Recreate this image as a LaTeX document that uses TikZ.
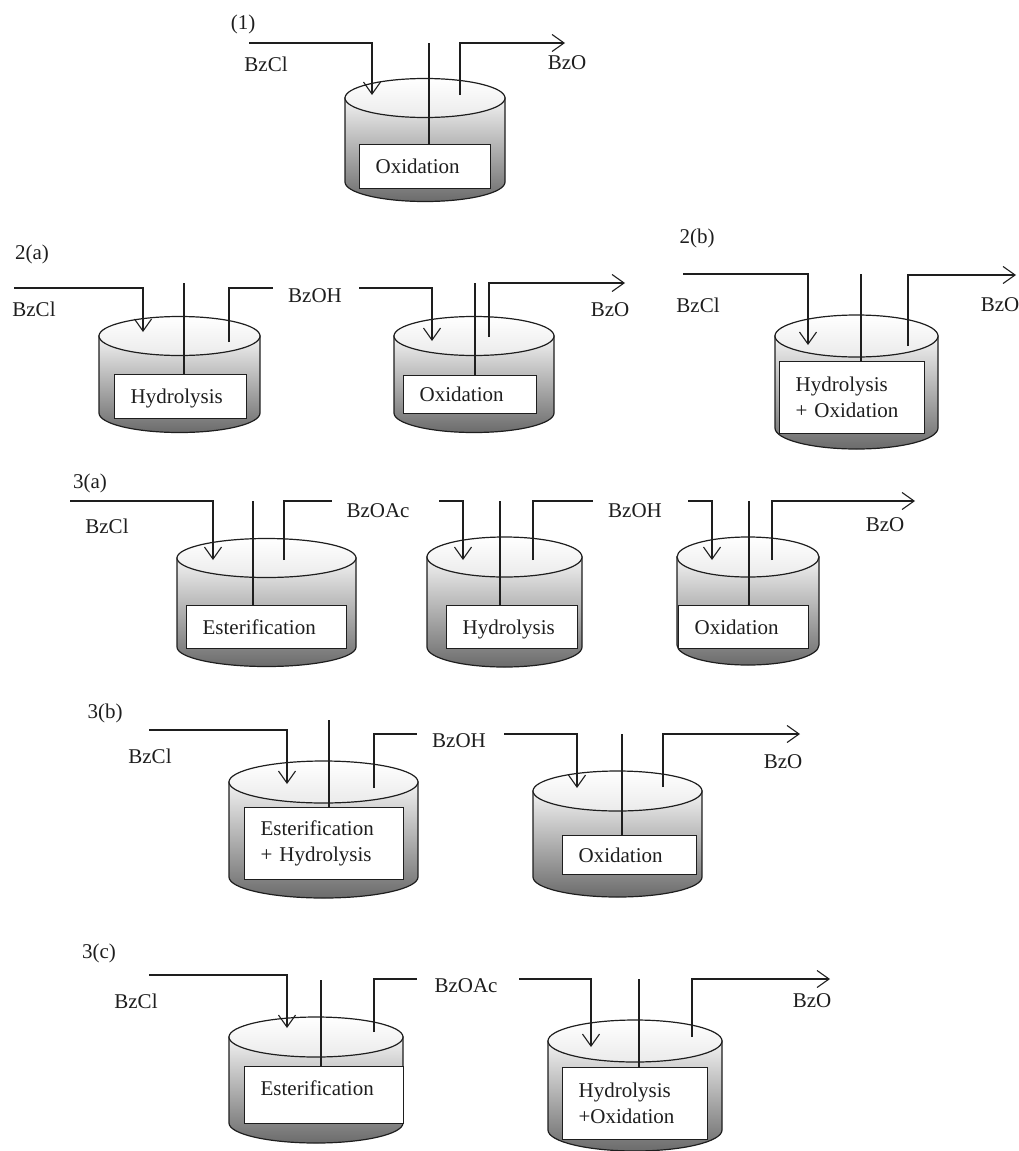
\documentclass[tikz,border=0pt]{standalone}
\usepackage{fontspec}
\setmainfont{Liberation Serif}
\usetikzlibrary{arrows.meta}
\definecolor{ink}{HTML}{1E1E1E}
\newcommand{\tank}[5]{%
  \pgfmathsetmacro{\tankrx}{(#2-#1)/2}
  \draw[vessel,top color=black!5,middle color=black!17,bottom color=black!58]
    (#1,#3) -- (#1,#4) arc[start angle=180,end angle=360,x radius=\tankrx,y radius=-#5] -- (#2,#3) -- cycle;
  \draw[vessel,top color=white,bottom color=black!8]
    (#1,#3) arc[start angle=180,end angle=540,x radius=\tankrx,y radius=-#5] -- cycle;}

\begin{document}
\begin{tikzpicture}[x=1pt,y=-1pt,font=\fontsize{21}{26}\selectfont,color=ink,
  vessel/.style={draw=ink,line width=1.2pt},
  rxn/.style={draw=ink,fill=white,line width=1.2pt,anchor=north west,align=left,
              inner xsep=16pt,inner ysep=0pt},
  lbl/.style={inner sep=0pt},
  flow/.style={draw=ink,line width=1.1pt},
  feed/.style={flow,-{Straight Barb[length=12pt,width=17pt]}}]
  \useasboundingbox (0,0) rectangle (1019,1151);

  \tank{345}{505}{98}{182}{19.5}
  \tank{99}{260}{336}{413}{19.5}
  \tank{394}{554}{336}{413}{19.5}
  \tank{775}{938}{336}{428}{21}
  \tank{177}{356}{558}{647}{19.5}
  \tank{427}{582}{557}{647}{20}
  \tank{677}{819}{557}{645}{20}
  \tank{229}{418}{782}{877}{21}
  \tank{533}{702}{791}{877}{20}
  \tank{229}{403}{1037}{1123}{20}
  \tank{548}{722}{1041}{1130}{21}

  \node[rxn,text width=99pt,minimum height=44pt] (oxA) at (359,144) {Oxidation};
  \node[rxn,text width=100pt,minimum height=44pt] (hyB) at (114,374) {\rule{0pt}{18.5pt}Hydrolysis};
  \node[rxn,text width=101pt,minimum height=38pt] (oxB) at (403,375) {Oxidation};
  \node[rxn,text width=113pt,minimum height=72pt] (hoB) at (779,361) {Hydrolysis\\+ Oxidation};
  \node[rxn,text width=128pt,minimum height=43pt] (esC) at (186,605) {Esterification};
  \node[rxn,text width=99pt,minimum height=43pt] (hyC) at (446,605) {\rule{0pt}{18.5pt}Hydrolysis};
  \node[rxn,text width=98pt,minimum height=43pt] (oxC) at (678,605) {Oxidation};
  \node[rxn,text width=127pt,minimum height=72pt] (ehD) at (244,807) {Esterification\\+ Hydrolysis};
  \node[rxn,text width=102pt,minimum height=39pt] (oxD) at (562,835) {Oxidation};
  \node[rxn,text width=127pt,minimum height=57pt] (esE) at (244,1066) {Esterification\\[-12pt]~};
  \node[rxn,text width=113pt,minimum height=72pt] (hoE) at (562,1067) {Hydrolysis\\+Oxidation};

  \node[lbl] (capA) at (243,24) {(1)};
  \node[lbl] (capB) at (32,254) {2(a)};
  \node[lbl] (capC) at (697,238) {2(b)};
  \node[lbl] (capD) at (90,483) {3(a)};
  \node[lbl] (capE) at (105,713) {3(b)};
  \node[lbl] (capF) at (99,953) {3(c)};

  \node[lbl] (clA) at (266,64) {BzCl};
  \node[lbl] (boA) at (567,63) {BzO};
  \node[lbl] (clB) at (34,309) {BzCl};
  \node[lbl] (ohB) at (315,296) {BzOH};
  \node[lbl] (boB) at (610,310) {BzO};
  \node[lbl] (clC) at (698,305) {BzCl};
  \node[lbl] (boC) at (1000,305) {BzO};
  \node[lbl] (clD) at (107,526) {BzCl};
  \node[lbl] (acD) at (378,511) {BzOAc};
  \node[lbl] (ohD) at (635,511) {BzOH};
  \node[lbl] (boD) at (885,525) {BzO};
  \node[lbl] (clE) at (150,756) {BzCl};
  \node[lbl] (ohE) at (459,741) {BzOH};
  \node[lbl] (boE) at (783,762) {BzO};
  \node[lbl] (clF) at (136,1001) {BzCl};
  \node[lbl] (acF) at (466,986) {BzOAc};
  \node[lbl] (boF) at (812,1001) {BzO};

  % (1)
  \coordinate (sA) at (429,43);
  \coordinate (fA) at (249,43);
  \coordinate (iA) at (372,95);
  \coordinate (uA) at (460,95);
  \coordinate (eA) at (565,43);
  \draw[flow] (sA) -- (sA |- oxA.north);
  \draw[feed] (fA) -| (iA);
  \draw[feed] (uA) |- (eA);

  % 2(a)
  \coordinate (sB) at (184,283);
  \coordinate (fB) at (14,288);
  \coordinate (iB) at (143,332);
  \coordinate (uB) at (229,342);
  \coordinate (mB) at (273,288);
  \draw[flow] (sB) -- (sB |- hyB.north);
  \draw[feed] (fB) -| (iB);
  \draw[flow] (uB) |- (mB);
  \coordinate (sBx) at (475,283);
  \coordinate (fBx) at (359,288);
  \coordinate (iBx) at (432,341);
  \coordinate (uBx) at (489,337);
  \coordinate (eBx) at (625,283);
  \draw[flow] (sBx) -- (sBx |- oxB.north);
  \draw[feed] (fBx) -| (iBx);
  \draw[feed] (uBx) |- (eBx);

  % 2(b)
  \coordinate (sC) at (861,274);
  \coordinate (fC) at (683,274);
  \coordinate (iC) at (808,345);
  \coordinate (uC) at (908,346);
  \coordinate (eC) at (1016,275);
  \draw[flow] (sC) -- (sC |- hoB.north);
  \draw[feed] (fC) -| (iC);
  \draw[feed] (uC) |- (eC);

  % 3(a)
  \coordinate (sD) at (253,501);
  \coordinate (fD) at (70,501);
  \coordinate (iD) at (213,560);
  \coordinate (uD) at (284,560);
  \coordinate (mD) at (332,501);
  \draw[flow] (sD) -- (sD |- esC.north);
  \draw[feed] (fD) -| (iD);
  \draw[flow] (uD) |- (mD);
  \coordinate (sDx) at (500,501);
  \coordinate (fDx) at (439,501);
  \coordinate (iDx) at (463,560);
  \coordinate (uDx) at (533,560);
  \coordinate (mDx) at (593,501);
  \draw[flow] (sDx) -- (sDx |- hyC.north);
  \draw[feed] (fDx) -| (iDx);
  \draw[flow] (uDx) |- (mDx);
  \coordinate (sDy) at (749,501);
  \coordinate (fDy) at (688,501);
  \coordinate (iDy) at (712,560);
  \coordinate (uDy) at (772,560);
  \coordinate (eDy) at (915,501);
  \draw[flow] (sDy) -- (sDy |- oxC.north);
  \draw[feed] (fDy) -| (iDy);
  \draw[feed] (uDy) |- (eDy);

  % 3(b)
  \coordinate (sE) at (329,720);
  \coordinate (fE) at (149,730);
  \coordinate (iE) at (287,784);
  \coordinate (uE) at (374,788);
  \coordinate (mE) at (417,734);
  \draw[flow] (sE) -- (sE |- ehD.north);
  \draw[feed] (fE) -| (iE);
  \draw[flow] (uE) |- (mE);
  \coordinate (sEx) at (622,734);
  \coordinate (fEx) at (504,734);
  \coordinate (iEx) at (577,788);
  \coordinate (uEx) at (663,787);
  \coordinate (eEx) at (800,734);
  \draw[flow] (sEx) -- (sEx |- oxD.north);
  \draw[feed] (fEx) -| (iEx);
  \draw[feed] (uEx) |- (eEx);

  % 3(c)
  \coordinate (sF) at (321,980);
  \coordinate (fF) at (149,975);
  \coordinate (iF) at (287,1028);
  \coordinate (uF) at (374,1032);
  \coordinate (mF) at (417,979);
  \draw[flow] (sF) -- (sF |- esE.north);
  \draw[feed] (fF) -| (iF);
  \draw[flow] (uF) |- (mF);
  \coordinate (sFx) at (639,979);
  \coordinate (fFx) at (519,979);
  \coordinate (iFx) at (591,1047);
  \coordinate (uFx) at (692,1037);
  \coordinate (eFx) at (830,979);
  \draw[flow] (sFx) -- (sFx |- hoE.north);
  \draw[feed] (fFx) -| (iFx);
  \draw[feed] (uFx) |- (eFx);
\end{tikzpicture}
\end{document}
